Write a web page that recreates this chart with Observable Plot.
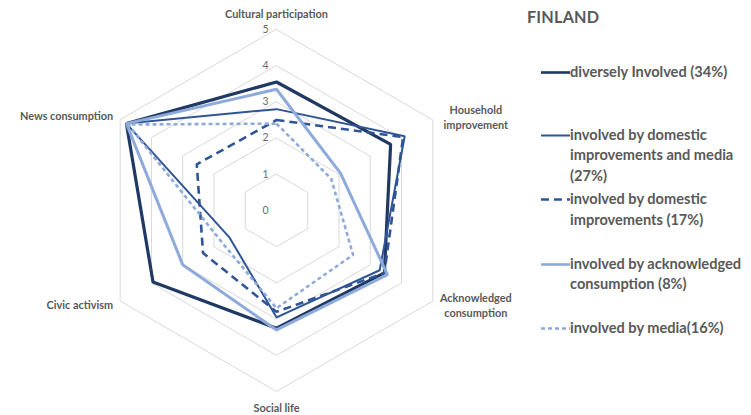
<!DOCTYPE html>
<html>
<head>
<meta charset="utf-8">
<script src="https://cdn.jsdelivr.net/npm/d3@7"></script>
<script src="https://cdn.jsdelivr.net/npm/@observablehq/plot@0.6"></script>
<style>
  html, body { margin: 0; padding: 0; background: #fff; }
  #wrap { position: relative; width: 751px; height: 415px; overflow: hidden; font-family: Lato, "Open Sans", sans-serif; }
  #chart { position: absolute; left: 0; top: 0; }
  #title { position: absolute; left: 527px; top: 7px; font-size: 16.2px; font-weight: 700; color: #595959; letter-spacing: 0.2px; }
  .entry { position: absolute; left: 540px; display: flex; align-items: flex-start; font-size: 14.6px; font-weight: 700; color: #595959; line-height: 20.5px; white-space: nowrap; }
  .entry svg { flex: none; }
  .entry span { display: block; }
</style>
</head>
<body>
<div id="wrap">
  <div id="chart"></div>
  <div id="title">FINLAND</div>
  <div id="legend"></div>
</div>
<script>
// Radar axes, clockwise from the top
const axes = ["Cultural participation", "Household improvement", "Acknowledged consumption", "Social life", "Civic activism", "News consumption"];
const axisLabels = ["Cultural participation", "Household\nimprovement", "Acknowledged\nconsumption", "Social life", "Civic activism", "News consumption"];
const ticks = [0, 1, 2, 3, 4, 5];

// Cluster names and their mean scores on each axis
const seriesNames = [
  "diversely Involved (34%)",
  "involved by domestic improvements and media (27%)",
  "involved by domestic improvements (17%)",
  "involved by acknowledged consumption (8%)",
  "involved by media(16%)"
];
const diverselyInvolved       = [3.55, 3.65, 3.45, 3.25, 3.95, 4.80];
const domesticAndMedia        = [2.80, 4.10, 3.30, 2.95, 1.50, 4.80];
const domesticImprovements    = [2.50, 4.05, 3.45, 2.80, 2.35, 2.55];
const acknowledgedConsumption = [3.35, 2.05, 3.55, 3.30, 3.00, 4.80];
const mediaInvolved           = [2.40, 1.75, 2.45, 2.70, 1.75, 4.75];
const seriesValues = [diverselyInvolved, domesticAndMedia, domesticImprovements, acknowledgedConsumption, mediaInvolved];

// Line styles per cluster
const styles = [
  {stroke: "#1f3864", width: 3.2, dash: null, legendLines: ["diversely Involved (34%)"]},
  {stroke: "#2f5597", width: 2, dash: null, legendLines: ["involved by domestic", "improvements and media", "(27%)"]},
  {stroke: "#2f5597", width: 2.6, dash: "8,5", legendLines: ["involved by domestic", "improvements (17%)"]},
  {stroke: "#8eaadb", width: 3, dash: null, legendLines: ["involved by acknowledged", "consumption (8%)"]},
  {stroke: "#8eaadb", width: 2.6, dash: "4,3", legendLines: ["involved by media(16%)"]}
];
const legendTops = [61.5, 124.5, 189, 253.5, 317.5];

const angle = i => (i * Math.PI * 2) / axes.length;
const px = (v, i) => v * Math.sin(angle(i));
const py = (v, i) => v * Math.cos(angle(i));

// Grid rings (1..5) as closed hexagons
const rings = ticks.filter(t => t > 0).flatMap(t => axes.map((a, i) => ({ring: t, x: px(t, i), y: py(t, i)})));

// Series points
const points = seriesValues.flatMap((vals, s) => vals.map((v, i) => ({series: s, axis: axes[i], value: v, x: px(v, i), y: py(v, i)})));

const labelPos = axes.map((a, i) => ({label: axisLabels[i], x: px(5, i), y: py(5, i)}));
const labelOffsets = [
  {dx: 0, dy: -16.5, anchor: "middle"},
  {dx: 43, dy: -3, anchor: "middle"},
  {dx: 43, dy: 4, anchor: "middle"},
  {dx: 0, dy: 15.5, anchor: "middle"},
  {dx: -7, dy: 3.5, anchor: "end"},
  {dx: -7, dy: -4.5, anchor: "end"}
];

const marks = [
  Plot.line(rings, {x: "x", y: "y", z: "ring", curve: "linear-closed", stroke: "#d9d9d9", strokeWidth: 1}),
  Plot.text(ticks, {x: 0, y: d => d, text: d => String(d), textAnchor: "end", dx: -8, fill: "#6b6b6b", fontSize: 10.5})
];
styles.forEach((st, s) => {
  marks.push(Plot.line(points.filter(p => p.series === s), {
    x: "x", y: "y", curve: "linear-closed",
    stroke: st.stroke, strokeWidth: st.width, strokeDasharray: st.dash,
    strokeLinejoin: "miter", strokeLinecap: "butt"
  }));
});
labelPos.forEach((d, i) => {
  const o = labelOffsets[i];
  marks.push(Plot.text([d], {x: "x", y: "y", text: "label", dx: o.dx, dy: o.dy, textAnchor: o.anchor,
    fill: "#595959", fontSize: 10.9, fontWeight: 700, lineHeight: 1.35}));
});

const chart = Plot.plot({
  width: 751,
  height: 415,
  margin: 0,
  x: {domain: [-5, 5], range: [95.5, 456.5], axis: null},
  y: {domain: [-5, 5], range: [391, 29], axis: null},
  style: {fontFamily: "Lato, 'Open Sans', sans-serif", background: "transparent", overflow: "visible"},
  marks
});
document.getElementById("chart").appendChild(chart);

// Legend on the right
const legend = document.getElementById("legend");
styles.forEach((st, s) => {
  const div = document.createElement("div");
  div.className = "entry";
  div.style.top = legendTops[s] + "px";
  const svg = d3.create("svg").attr("width", 30).attr("height", 20.5);
  svg.append("line").attr("x1", 1).attr("x2", 30).attr("y1", 10.5).attr("y2", 10.5)
    .attr("stroke", st.stroke).attr("stroke-width", Math.min(st.width, 2.6))
    .attr("stroke-dasharray", st.dash);
  div.appendChild(svg.node());
  const text = document.createElement("div");
  st.legendLines.forEach(l => { const sp = document.createElement("span"); sp.textContent = l; text.appendChild(sp); });
  div.appendChild(text);
  legend.appendChild(div);
});
</script>
</body>
</html>
